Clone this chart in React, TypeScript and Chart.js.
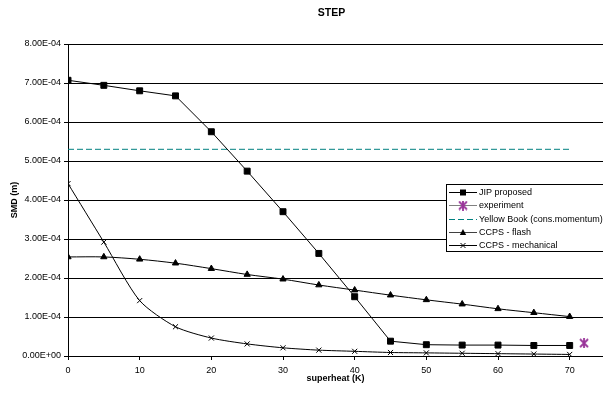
import React, { useEffect, useRef } from "react";
import { Chart, registerables } from "chart.js";

Chart.register(...registerables);

// Superheat (K) sampled for the model curves
const superheat = [0, 5, 10, 15, 20, 25, 30, 35, 40, 45, 50, 55, 60, 65, 70];

// SMD (m) per model
const jipProposed = [
  7.07e-4, 6.94e-4, 6.8e-4, 6.67e-4, 5.75e-4, 4.74e-4, 3.7e-4, 2.63e-4, 1.52e-4,
  0.38e-4, 0.29e-4, 0.28e-4, 0.28e-4, 0.27e-4, 0.27e-4,
];
const ccpsFlash = [
  2.54e-4, 2.54e-4, 2.48e-4, 2.38e-4, 2.24e-4, 2.09e-4, 1.97e-4, 1.82e-4, 1.69e-4,
  1.56e-4, 1.44e-4, 1.33e-4, 1.21e-4, 1.11e-4, 1.01e-4,
];
const ccpsMechanical = [
  4.42e-4, 2.92e-4, 1.42e-4, 0.75e-4, 0.46e-4, 0.31e-4, 0.21e-4, 0.15e-4, 0.12e-4,
  0.09e-4, 0.08e-4, 0.07e-4, 0.06e-4, 0.05e-4, 0.04e-4,
];

// Yellow Book constant-momentum estimate
const yellowBookX = [0, 70];
const yellowBookY = [5.3e-4, 5.3e-4];

// Measured value
const experimentX = [72];
const experimentY = [3.3e-5];

const xTicks = [0, 10, 20, 30, 40, 50, 60, 70];

const FONT = "'Liberation Sans', Arial, sans-serif";
const PURPLE = "#993399";
const TEAL = "#008080";

const toPoints = (xs: number[], ys: number[]) => xs.map((x, i) => ({ x, y: ys[i] }));

function formatSci(v: number): string {
  const [mant, exp] = v.toExponential(2).toUpperCase().split("E");
  const sign = exp.startsWith("-") ? "-" : "+";
  const digits = exp.replace(/[+-]/, "").padStart(2, "0");
  return `${mant}E${sign}${digits}`;
}

function makeAsterisk(color: string, size: number): HTMLCanvasElement {
  const c = document.createElement("canvas");
  c.width = size;
  c.height = size;
  const g = c.getContext("2d")!;
  g.strokeStyle = color;
  g.lineWidth = 1.8;
  g.beginPath();
  g.moveTo(1, 1);
  g.lineTo(size - 1, size - 1);
  g.moveTo(size - 1, 1);
  g.lineTo(1, size - 1);
  g.moveTo(size / 2, 0);
  g.lineTo(size / 2, size);
  g.stroke();
  return c;
}

type LegendItem = {
  label: string;
  color: string;
  lineColor: string;
  dash: number[];
  marker: "rect" | "triangle" | "cross" | "star" | "none";
};

const legendItems: LegendItem[] = [
  { label: "JIP proposed", color: "#000", lineColor: "#000", dash: [], marker: "rect" },
  { label: "experiment", color: PURPLE, lineColor: "#808080", dash: [], marker: "star" },
  { label: "Yellow Book (cons.momentum)", color: TEAL, lineColor: TEAL, dash: [6, 3], marker: "none" },
  { label: "CCPS - flash", color: "#000", lineColor: "#404040", dash: [], marker: "triangle" },
  { label: "CCPS - mechanical", color: "#000", lineColor: "#000", dash: [], marker: "cross" },
];

export default function App() {
  const canvasRef = useRef<HTMLCanvasElement | null>(null);

  useEffect(() => {
    document.body.style.margin = "0";
    const canvas = canvasRef.current;
    if (!canvas) return;
    const star = makeAsterisk(PURPLE, 10);

    const overlay = {
      id: "stepOverlay",
      afterDraw(chart: any) {
        const { ctx, chartArea } = chart;
        ctx.save();
        // title
        ctx.fillStyle = "#000";
        ctx.font = `bold 10.5px ${FONT}`;
        ctx.textAlign = "center";
        ctx.textBaseline = "middle";
        ctx.fillText("STEP", (chartArea.left + chartArea.right) / 2 - 4, 13);

        // legend box
        const bx = 446.5;
        const by = 184.5;
        ctx.fillStyle = "#fff";
        ctx.fillRect(bx, by, 200, 67);
        ctx.strokeStyle = "#000";
        ctx.lineWidth = 1;
        ctx.strokeRect(bx, by, 200, 67);

        ctx.font = `9px ${FONT}`;
        ctx.textAlign = "left";
        legendItems.forEach((it, i) => {
          const y = 192 + i * 13.3;
          ctx.strokeStyle = it.lineColor;
          ctx.lineWidth = 1;
          ctx.setLineDash(it.dash);
          ctx.beginPath();
          ctx.moveTo(449, Math.round(y) + 0.5);
          ctx.lineTo(477, Math.round(y) + 0.5);
          ctx.stroke();
          ctx.setLineDash([]);
          const mx = 463;
          const my = Math.round(y) + 0.5;
          ctx.fillStyle = it.color;
          ctx.strokeStyle = it.color;
          if (it.marker === "rect") {
            ctx.fillRect(mx - 3, my - 3, 6, 6);
          } else if (it.marker === "triangle") {
            ctx.beginPath();
            ctx.moveTo(mx, my - 3.5);
            ctx.lineTo(mx + 3.2, my + 2.5);
            ctx.lineTo(mx - 3.2, my + 2.5);
            ctx.closePath();
            ctx.fill();
          } else if (it.marker === "cross") {
            ctx.beginPath();
            ctx.moveTo(mx - 2.5, my - 2.5);
            ctx.lineTo(mx + 2.5, my + 2.5);
            ctx.moveTo(mx + 2.5, my - 2.5);
            ctx.lineTo(mx - 2.5, my + 2.5);
            ctx.stroke();
          } else if (it.marker === "star") {
            ctx.drawImage(star, mx - 5, my - 5);
          }
          ctx.fillStyle = "#000";
          ctx.textBaseline = "middle";
          ctx.fillText(it.label, 479, y + 0.5);
        });
        ctx.restore();
      },
    };

    const chart = new Chart(canvas, {
      type: "scatter",
      data: {
        datasets: [
          {
            label: "JIP proposed",
            data: toPoints(superheat, jipProposed),
            showLine: true,
            borderColor: "#000",
            backgroundColor: "#000",
            borderWidth: 1,
            pointStyle: "rect",
            pointRadius: 4.2,
            tension: 0,
          },
          {
            label: "experiment",
            data: toPoints(experimentX, experimentY),
            showLine: false,
            borderColor: PURPLE,
            backgroundColor: PURPLE,
            pointStyle: star,
            pointRadius: 5,
          },
          {
            label: "Yellow Book (cons.momentum)",
            data: toPoints(yellowBookX, yellowBookY),
            showLine: true,
            borderColor: TEAL,
            borderWidth: 1,
            borderDash: [6, 3],
            pointRadius: 0,
          },
          {
            label: "CCPS - flash",
            data: toPoints(superheat, ccpsFlash),
            showLine: true,
            borderColor: "#000",
            backgroundColor: "#000",
            borderWidth: 1,
            pointStyle: "triangle",
            pointRadius: 3.6,
            tension: 0.3,
          },
          {
            label: "CCPS - mechanical",
            data: toPoints(superheat, ccpsMechanical),
            showLine: true,
            borderColor: "#000",
            backgroundColor: "#000",
            borderWidth: 1,
            pointStyle: "crossRot",
            pointRadius: 3.6,
            tension: 0.25,
          },
        ],
      },
      options: {
        responsive: false,
        animation: false,
        layout: { autoPadding: false, padding: { top: 44, left: 0, right: 0, bottom: 0 } },
        plugins: {
          legend: { display: false },
          title: { display: false },
          tooltip: { enabled: false },
        },
        scales: {
          x: {
            type: "linear",
            min: 0,
            max: 74.65,
            afterBuildTicks: (scale: any) => {
              scale.ticks = xTicks.map((v) => ({ value: v }));
            },
            afterFit: (scale: any) => {
              scale.height = 38;
              scale.paddingLeft = 0;
              scale.paddingRight = 0;
            },
            grid: {
              drawOnChartArea: false,
              drawTicks: true,
              tickLength: 4,
              color: "#000",
            },
            border: { display: true, color: "#000" },
            ticks: {
              color: "#000",
              font: { family: FONT, size: 9 },
              padding: 5,
              maxRotation: 0,
            },
            title: {
              display: true,
              text: "superheat (K)",
              color: "#000",
              font: { family: FONT, size: 9, weight: "bold" },
              padding: { top: 0, bottom: 10 },
            },
          },
          y: {
            type: "linear",
            min: 0,
            max: 8e-4,
            afterFit: (scale: any) => {
              scale.width = 68;
              scale.paddingTop = 0;
              scale.paddingBottom = 0;
            },
            grid: {
              color: "#000",
              lineWidth: 1,
              drawTicks: true,
              tickLength: 4,
            },
            border: { display: true, color: "#000" },
            ticks: {
              stepSize: 1e-4,
              color: "#000",
              font: { family: FONT, size: 9 },
              padding: 3,
              callback: (v: any) => formatSci(Number(v)),
            },
            title: {
              display: true,
              text: "SMD (m)",
              color: "#000",
              font: { family: FONT, size: 9, weight: "bold" },
              padding: { top: 9, bottom: 0 },
            },
          },
        },
      },
      plugins: [overlay],
    });

    return () => chart.destroy();
  }, []);

  return (
    <canvas
      ref={canvasRef}
      width={603}
      height={394}
      style={{ display: "block", width: 603, height: 394 }}
    />
  );
}
